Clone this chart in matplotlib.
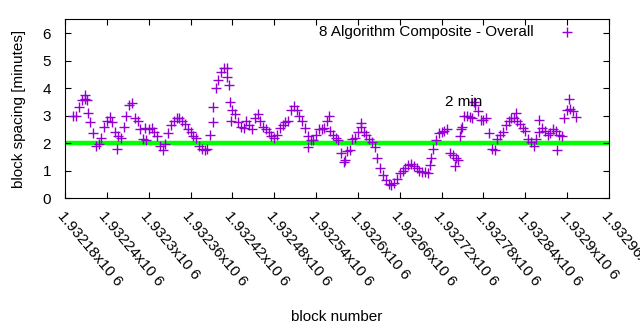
import numpy as np
import matplotlib
matplotlib.use("Agg")
import matplotlib.pyplot as plt
import matplotlib.transforms as mtransforms

plt.rcParams['font.family'] = ['Liberation Sans', 'DejaVu Sans']

# block spacing averaged over 8 algorithms, sampled every 4 blocks
first_block = 1932192
block_step = 4
spacing_min = [
    3.0, 3.0, 3.3, 3.55, 3.6, 3.55, 2.75, 2.35, 1.9, 1.95,
    2.2, 2.6, 2.8, 2.95, 2.75, 2.4, 2.25, 2.2, 2.6, 3.0,
    3.4, 3.45, 2.9, 2.8, 2.5, 2.15, 2.1, 2.5, 2.55, 2.4,
    2.25, 1.9, 1.75, 1.95, 2.35, 2.65, 2.8, 2.9, 2.9, 2.8,
    2.7, 2.5, 2.4, 2.25, 2.2, 1.9, 1.8, 1.75, 1.8, 2.3,
    3.3, 4.0, 4.3, 4.6, 4.75, 4.75, 3.5, 3.2, 3.05, 2.75,
    2.6, 2.55, 2.8, 2.65, 2.5, 2.9, 3.05, 2.8, 2.6, 2.5,
    2.4, 2.25, 2.2, 2.3, 2.55, 2.65, 2.75, 2.8, 3.2, 3.35,
    3.2, 3.0, 2.8, 2.55, 2.25, 2.1, 2.1, 2.3, 2.5, 2.5,
    2.55, 2.8, 2.45, 2.3, 2.2, 2.1, 1.65, 1.3, 1.7, 1.75,
    2.15, 2.2, 2.4, 2.6, 2.4, 2.3, 2.15, 2.05, 1.85, 1.45,
    1.1, 0.85, 0.65, 0.5, 0.47, 0.55, 0.7, 0.9, 1.0, 1.1,
    1.2, 1.25, 1.15, 1.1, 1.0, 0.95, 0.95, 0.9, 1.2, 1.8,
    2.1, 2.35, 2.4, 2.45, 2.5, 1.65, 1.55, 1.45, 1.4, 2.5,
    3.0, 3.0, 2.95, 2.9, 3.4, 3.15, 2.85, 2.85, 2.9, 2.35,
    1.8, 1.75, 2.15, 2.3, 2.4, 2.65, 2.8, 2.9, 2.9, 2.8,
    2.7, 2.55, 2.45, 2.15, 2.05, 1.9, 2.15, 2.4, 2.55, 2.45,
    2.3, 2.35, 2.5, 2.45, 2.3, 2.25, 2.9, 3.2, 3.25, 3.15,
    2.95,
]
blocks = first_block + block_step * np.arange(len(spacing_min))

# single blocks that stray from the running curve
extra_blocks = [1932209, 1932213, 1932254, 1932294, 1932392, 1932412, 1932415,
                1932418, 1932529, 1932558, 1932582, 1932605, 1932705, 1932739,
                1932746, 1932749, 1932766, 1932826, 1932860, 1932885, 1932903]
extra_min = [3.75, 3.1, 1.8, 2.55, 2.75, 4.4, 4.1,
             2.8, 1.87, 3.0, 1.4, 2.72, 1.45, 1.15,
             2.25, 2.6, 3.5, 3.1, 2.85, 1.73, 3.6]

target_min = 2
x_lo, x_hi, x_step = 1932180, 1932960, 60
y_ticks = [0, 1, 2, 3, 4, 5, 6]

purple = '#9400d3'
fs = 11

fig = plt.figure(figsize=(6.4, 3.3), dpi=100)
ax = fig.add_axes([0.1016, 0.4, 0.85, 0.541])

ax.plot([x_lo, x_hi], [target_min, target_min], color='#00ff00', lw=3.2, zorder=1)
ax.plot(np.concatenate([blocks, extra_blocks]), np.concatenate([spacing_min, extra_min]),
        ls='none', marker='+', ms=6.5, mew=1.0, color=purple, zorder=2)

ax.text(1932725, 3.5, '2 min', fontsize=fs, ha='left', va='center', zorder=3)

# key in the top right corner
ax.text(0.861, 0.932, '8 Algorithm Composite - Overall', transform=ax.transAxes,
        fontsize=fs, ha='right', va='center')
ax.plot([0.922], [0.932], transform=ax.transAxes, ls='none', marker='+',
        ms=6.5, mew=1.0, color=purple, clip_on=False)

ax.set_xlim(x_lo, x_hi)
ax.set_ylim(0, 6.5)
xt = np.arange(x_lo, x_hi + 1, x_step)
ax.set_xticks(xt)
ax.set_xticklabels([f'{v / 1e6:g}x10 6' for v in xt], rotation=-50,
                   ha='left', va='top', rotation_mode='anchor')
shift = mtransforms.ScaledTranslation(5 / 100, 0, fig.dpi_scale_trans)
for lbl in ax.get_xticklabels():
    lbl.set_transform(lbl.get_transform() + shift)
ax.set_yticks(y_ticks)
ax.tick_params(direction='in', top=True, right=True, length=4, width=0.8,
               labelsize=fs)
ax.tick_params(axis='x', pad=8)
ax.tick_params(axis='y', pad=10)
for s in ax.spines.values():
    s.set_linewidth(0.8)

ax.set_xlabel('block number', fontsize=fs, labelpad=15)
ax.set_ylabel('block spacing [minutes]', fontsize=fs, labelpad=12)

fig.savefig('out.png', dpi=100)
